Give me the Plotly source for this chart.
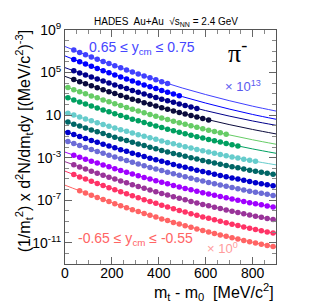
import plotly.graph_objects as go
import numpy as np

# transverse-mass bins (MeV/c^2), bin centres
MT = [12.5, 37.5, 62.5, 87.5, 112.5, 137.5, 162.5, 187.5, 212.5, 237.5, 262.5, 287.5,
      312.5, 337.5, 362.5, 387.5, 412.5, 437.5, 462.5, 487.5, 512.5, 537.5, 562.5, 587.5,
      612.5, 637.5, 662.5, 687.5, 712.5, 737.5, 762.5, 787.5, 812.5, 837.5, 862.5, 887.5]

# rapidity bins: index 0 = -0.65..-0.55 (x10^0) ... index 13 = 0.65..0.75 (x10^13)
LABEL_LOW = "-0.65 ≤ y<sub>cm</sub> ≤ -0.55"
LABEL_HIGH = "0.65 ≤ y<sub>cm</sub> ≤ 0.75"
SCALE_LOW = "× 10<sup>0</sup>"
SCALE_HIGH = "× 10<sup>13</sup>"
FIRST_BIN = [2, 1, 1, 1, 0, 0, 0, 0, 0, 0, 1, 1, 1, 1]

# log10 of the scaled spectra
LOG_Y = [
    [-6.12, -6.33, -6.54, -6.74, -6.94, -7.13, -7.33, -7.52, -7.70, -7.89, -8.07, -8.25,
     -8.42, -8.59, -8.76, -8.92, -9.09, -9.24, -9.40, -9.55, -9.70, -9.85, -9.99, -10.13,
     -10.27, -10.40, -10.53, -10.66, -10.78, -10.90, -11.02, -11.14, -11.25, -11.36],
    [-4.59, -4.81, -5.02, -5.22, -5.43, -5.63, -5.83, -6.02, -6.21, -6.40, -6.59, -6.77,
     -6.95, -7.12, -7.30, -7.47, -7.63, -7.80, -7.96, -8.11, -8.27, -8.42, -8.57, -8.71,
     -8.85, -8.99, -9.12, -9.26, -9.38, -9.51, -9.63, -9.75, -9.87, -9.98, -10.09],
    [-3.68, -3.88, -4.08, -4.27, -4.46, -4.65, -4.84, -5.02, -5.20, -5.37, -5.55, -5.72,
     -5.88, -6.05, -6.21, -6.37, -6.52, -6.68, -6.83, -6.97, -7.12, -7.26, -7.40, -7.53,
     -7.66, -7.79, -7.92, -8.04, -8.16, -8.28, -8.39, -8.50, -8.61, -8.72, -8.82],
    [-2.77, -2.96, -3.15, -3.33, -3.51, -3.69, -3.86, -4.04, -4.21, -4.37, -4.54, -4.70,
     -4.86, -5.01, -5.17, -5.32, -5.46, -5.61, -5.75, -5.89, -6.02, -6.16, -6.29, -6.42,
     -6.54, -6.66, -6.78, -6.90, -7.01, -7.12, -7.23, -7.34, -7.44, -7.54, -7.64],
    [-1.48, -1.67, -1.86, -2.05, -2.23, -2.42, -2.59, -2.77, -2.94, -3.11, -3.28, -3.44,
     -3.61, -3.76, -3.92, -4.07, -4.22, -4.37, -4.52, -4.66, -4.80, -4.94, -5.07, -5.20,
     -5.33, -5.45, -5.58, -5.70, -5.81, -5.93, -6.04, -6.15, -6.25, -6.35, -6.45, -6.55],
    [-0.64, -0.83, -1.02, -1.20, -1.38, -1.56, -1.74, -1.91, -2.08, -2.25, -2.41, -2.58,
     -2.74, -2.89, -3.05, -3.20, -3.35, -3.49, -3.64, -3.78, -3.91, -4.05, -4.18, -4.31,
     -4.43, -4.56, -4.68, -4.80, -4.91, -5.02, -5.13, -5.24, -5.35, -5.45, -5.55, -5.64],
    [0.34, 0.15, -0.03, -0.21, -0.39, -0.57, -0.74, -0.91, -1.08, -1.24, -1.40, -1.56,
     -1.72, -1.87, -2.02, -2.17, -2.32, -2.46, -2.60, -2.74, -2.87, -3.00, -3.13, -3.26,
     -3.38, -3.51, -3.62, -3.74, -3.85, -3.96, -4.07, -4.18, -4.28, -4.38, -4.47, -4.57],
    [1.18, 1.00, 0.82, 0.64, 0.46, 0.29, 0.12, -0.05, -0.21, -0.37, -0.53, -0.69,
     -0.84, -0.99, -1.14, -1.28, -1.43, -1.57, -1.70, -1.84, -1.97, -2.10, -2.23, -2.35,
     -2.47, -2.59, -2.71, -2.82, -2.93, -3.04, -3.15, -3.25, -3.35],
    [2.62, 2.43, 2.23, 2.04, 1.85, 1.67, 1.49, 1.31, 1.13, 0.96, 0.79, 0.62,
     0.46, 0.30, 0.14, -0.02, -0.17, -0.32, -0.47, -0.61, -0.75, -0.89, -1.03, -1.16,
     -1.29, -1.42, -1.54, -1.67, -1.78, -1.90],
    [3.59, 3.39, 3.19, 3.00, 2.80, 2.62, 2.43, 2.25, 2.07, 1.89, 1.72, 1.54,
     1.38, 1.21, 1.05, 0.89, 0.73, 0.58, 0.43, 0.28, 0.13, -0.01, -0.15, -0.28,
     -0.42, -0.55, -0.67, -0.80],
    [4.34, 4.14, 3.95, 3.76, 3.57, 3.39, 3.20, 3.02, 2.85, 2.67, 2.50, 2.34,
     2.17, 2.01, 1.85, 1.69, 1.54, 1.39, 1.24, 1.10, 0.96, 0.82, 0.68, 0.55],
    [5.16, 4.96, 4.77, 4.58, 4.39, 4.20, 4.02, 3.84, 3.66, 3.49, 3.32, 3.15,
     2.98, 2.82, 2.66, 2.50, 2.35, 2.20, 2.05, 1.91, 1.77, 1.63],
    [6.23, 6.01, 5.80, 5.59, 5.38, 5.18, 4.98, 4.78, 4.59, 4.39, 4.21, 4.02,
     3.84, 3.66, 3.49, 3.32, 3.15, 2.98, 2.82],
    [7.11, 6.89, 6.67, 6.46, 6.25, 6.04, 5.84, 5.63, 5.44, 5.24, 5.05, 4.86,
     4.68, 4.50, 4.32, 4.14, 3.97],
]

# fit curves (log10), sampled at FIT_MT
FIT_MT = [0, 100, 200, 300, 400, 500, 600, 700, 800, 900]
FIT_LOG = [
    [-5.59, -6.43, -7.23, -7.98, -8.68, -9.32, -9.92, -10.47, -10.96, -11.41],
    [-4.27, -5.12, -5.92, -6.68, -7.38, -8.04, -8.64, -9.19, -9.69, -10.14],
    [-3.38, -4.17, -4.93, -5.63, -6.29, -6.90, -7.46, -7.98, -8.45, -8.87],
    [-2.48, -3.24, -3.95, -4.62, -5.24, -5.82, -6.35, -6.84, -7.28, -7.68],
    [-1.38, -2.14, -2.86, -3.53, -4.15, -4.73, -5.26, -5.75, -6.20, -6.60],
    [-0.54, -1.29, -2.00, -2.66, -3.27, -3.84, -4.37, -4.86, -5.29, -5.69],
    [0.43, -0.30, -0.99, -1.64, -2.25, -2.81, -3.32, -3.80, -4.23, -4.61],
    [1.27, 0.55, -0.13, -0.76, -1.35, -1.90, -2.41, -2.88, -3.30, -3.68],
    [2.72, 1.95, 1.22, 0.54, -0.09, -0.68, -1.23, -1.73, -2.18, -2.59],
    [3.69, 2.90, 2.16, 1.46, 0.81, 0.21, -0.35, -0.86, -1.32, -1.74],
    [4.64, 3.85, 3.11, 2.42, 1.77, 1.17, 0.62, 0.11, -0.35, -0.77],
    [5.46, 4.67, 3.93, 3.23, 2.58, 1.98, 1.42, 0.91, 0.45, 0.04],
    [6.56, 5.69, 4.88, 4.11, 3.40, 2.74, 2.13, 1.57, 1.06, 0.61],
    [7.45, 6.57, 5.73, 4.96, 4.23, 3.55, 2.93, 2.36, 1.84, 1.38],
]

COLORS = ["#ff6464", "#ff3366", "#993399", "#a000ff", "#6b6bd6", "#0000cc", "#006666",
          "#66cccc", "#00a060", "#66cc66", "#0a0a3c", "#00008b", "#0000ff", "#4040ff"]

Y_MAJOR = [-11, -7, -3, 1, 5, 9]
Y_MAJOR_TEXT = ["10<sup>-11</sup>", "10<sup>-7</sup>", "10<sup>-3</sup>", "10",
                "10<sup>5</sup>", "10<sup>9</sup>"]
Y_MINOR = [d for d in range(-13, 10) if d not in Y_MAJOR]
X_MAJOR = [0, 200, 400, 600, 800]

FONT = "Liberation Sans, Arial, sans-serif"

fig = go.Figure()
for i in range(len(LOG_Y)):
    fig.add_trace(go.Scatter(x=FIT_MT, y=10 ** np.array(FIT_LOG[i]), mode="lines",
                             line=dict(color=COLORS[i], width=1, shape="spline"),
                             showlegend=False, hoverinfo="skip"))
for i in range(len(LOG_Y)):
    n = len(LOG_Y[i])
    xs = MT[FIRST_BIN[i]:FIRST_BIN[i] + n]
    fig.add_trace(go.Scatter(x=xs, y=10 ** np.array(LOG_Y[i]), mode="markers",
                             marker=dict(color=COLORS[i], size=5.5, line=dict(width=0)),
                             showlegend=False))

fig.update_layout(
    width=315, height=302,
    margin=dict(l=57, r=47, t=14, b=46),
    paper_bgcolor="white", plot_bgcolor="white",
    font=dict(family=FONT, color="black", size=14),
    xaxis=dict(range=[0, 900], tickvals=X_MAJOR, ticklabelstandoff=-4,
               ticks="inside", ticklen=7, tickcolor="#666", showline=True,
               linecolor="#555", linewidth=1, mirror="ticks", showgrid=False,
               zeroline=False, tickfont=dict(size=14),
               minor=dict(dtick=50, ticks="inside", ticklen=4, tickcolor="#888", showgrid=False)),
    yaxis=dict(type="log", range=[-13, 9], tickvals=[10.0 ** d for d in Y_MAJOR],
               ticktext=Y_MAJOR_TEXT,
               ticks="inside", ticklen=7, tickcolor="#666", showline=True,
               linecolor="#555", linewidth=1, mirror="ticks", showgrid=False,
               zeroline=False, tickfont=dict(size=14),
               minor=dict(tickvals=[10.0 ** d for d in Y_MINOR], ticks="inside", ticklen=4,
                          tickcolor="#888", showgrid=False)),
)

def yp(py):
    return (256.5 - py) / 242.5

def xp(px):
    return (px - 56.7) / 211.0

ann = [
    dict(text="HADES  Au+Au  √s<sub>NN</sub> = 2.4 GeV", x=xp(158), y=yp(5.5),
         xanchor="center", yanchor="middle", font=dict(size=10, color="black")),
    dict(text=LABEL_HIGH, x=xp(79), y=yp(33), xanchor="left", yanchor="middle",
         font=dict(size=14, color="#4646ff")),
    dict(text="π<sup>-</sup>", x=xp(229), y=yp(36), xanchor="center", yanchor="middle",
         font=dict(size=26, color="black", family="Liberation Serif, serif")),
    dict(text=SCALE_HIGH, x=xp(215), y=yp(72), xanchor="left", yanchor="middle",
         font=dict(size=13, color="#5a5aef")),
    dict(text=LABEL_LOW, x=xp(68), y=yp(231), xanchor="left", yanchor="middle",
         font=dict(size=14, color="#ff6464")),
    dict(text=SCALE_LOW, x=xp(197), y=yp(240), xanchor="left", yanchor="middle",
         font=dict(size=13, color="#ff9c9c")),
    dict(text="m<sub>t</sub> - m<sub>0</sub>  [MeV/c<sup>2</sup>]", x=1.0, y=yp(286),
         xanchor="right", yanchor="middle", font=dict(size=16, color="black")),
    dict(text="(1/m<sub>t</sub><sup>2</sup>) x d<sup>2</sup>N/dm<sub>t</sub>dy [(MeV/c<sup>2</sup>)<sup>-3</sup>]",
         x=xp(16), y=yp(12), xanchor="center", yanchor="top", textangle=-90,
         font=dict(size=16, color="black")),
]
for a in ann:
    fig.add_annotation(xref="paper", yref="paper", showarrow=False, **a)

fig.write_html("out.html")
